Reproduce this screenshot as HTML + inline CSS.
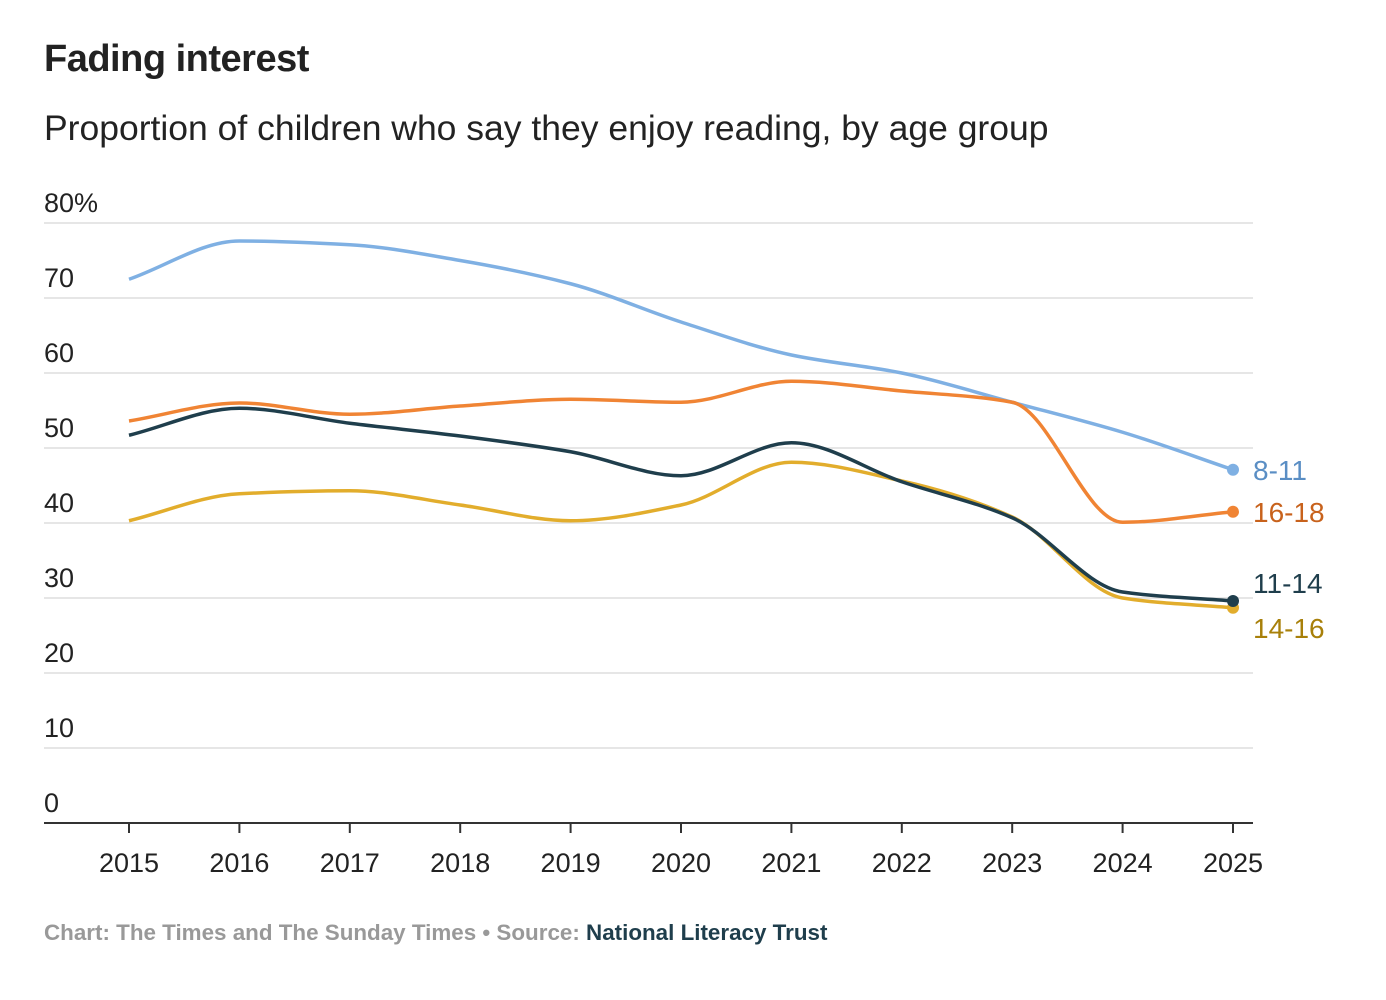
<!DOCTYPE html>
<html><head><meta charset="utf-8">
<style>
body{margin:0;background:#fff;font-family:"Liberation Sans",Arial,sans-serif;}
#wrap{position:relative;width:1386px;height:1000px;}
h1{position:absolute;left:44px;top:38px;margin:0;font-size:38px;font-weight:bold;color:#222;letter-spacing:-0.5px}
.sub{position:absolute;left:44px;top:108px;font-size:35.5px;color:#222}
.foot{position:absolute;left:44px;top:920px;font-size:22.4px;color:#999;font-weight:bold}
.foot span{color:#1f3e4c}
svg{position:absolute;left:0;top:0}
</style></head><body>
<div id="wrap">
<h1>Fading interest</h1>
<div class="sub">Proportion of children who say they enjoy reading, by age group</div>
<svg id="chart" width="1386" height="1000"></svg>
<div class="foot">Chart: The Times and The Sunday Times • Source: <span>National Literacy Trust</span></div>
</div>
<script>
const years=[2015,2016,2017,2018,2019,2020,2021,2022,2023,2024,2025];
const yTicks=[0,10,20,30,40,50,60,70,80];
const s811=[72.5,77.6,77.1,75,71.9,66.8,62.4,60,56.1,52.1,47.1];
const s1618=[53.6,56,54.5,55.6,56.5,56.1,58.9,57.6,56.1,40.1,41.5];
const s1114=[51.7,55.3,53.3,51.6,49.5,46.3,50.7,45.5,40.7,30.8,29.6];
const s1416=[40.3,43.9,44.3,42.4,40.3,42.4,48.1,45.6,40.8,30,28.7];
const seriesNames=["8-11","16-18","11-14","14-16"];
const NS="http://www.w3.org/2000/svg";
const svg=document.getElementById('chart');
const x=y=>129+(y-2015)*110.4;
const yv=v=>823-v*7.5;
function el(t,a){const e=document.createElementNS(NS,t);for(const k in a)e.setAttribute(k,a[k]);svg.appendChild(e);return e;}
yTicks.forEach(t=>{
  if(t>0){const g=el('line',{x1:44,x2:1253,y1:yv(t),y2:yv(t),stroke:'#ddd','stroke-width':1.5});
  
  }
  const lb=el('text',{x:44,y:yv(t)-11,'font-size':27,fill:'#222'});
  lb.textContent=t===80?'80%':t;
  
  
});
const ax=el('line',{x1:44,x2:1253,y1:823,y2:823,stroke:'#333','stroke-width':2});


years.forEach(yr=>{
  const tk=el('line',{x1:x(yr),x2:x(yr),y1:823,y2:833,stroke:'#333','stroke-width':2});
  
  
  const t=el('text',{x:x(yr),y:872,'font-size':27,fill:'#222','text-anchor':'middle'});
  t.textContent=yr;
  
  
});
function monotone(px,py){
  const n=px.length,d=[],m=[];
  for(let i=0;i<n-1;i++)d.push((py[i+1]-py[i])/(px[i+1]-px[i]));
  m[0]=d[0];m[n-1]=d[n-2];
  for(let i=1;i<n-1;i++){m[i]=(d[i-1]*d[i]<=0)?0:3*(px[i+1]-px[i-1])/((2*px[i+1]-px[i]-px[i-1])/d[i-1]+(px[i+1]+px[i]-2*px[i-1])/d[i]);}
  let p=`M${px[0]},${py[0]}`;
  for(let i=0;i<n-1;i++){const h=(px[i+1]-px[i])/3;p+=`C${px[i]+h},${py[i]+m[i]*h} ${px[i+1]-h},${py[i+1]-m[i+1]*h} ${px[i+1]},${py[i+1]}`;}
  return p;
}
const cfg=[[s811,'#7fb0e3','#5a8ec4',0],[s1618,'#f08434','#c8621c',0],[s1416,'#e2ad2c','#a8800a',20],[s1114,'#1f3e4c','#1f3e4c',-18]];
const nameIdx=[0,1,3,2];
cfg.forEach((c,i)=>{
  const vals=c[0];const px=years.map(x),py=vals.map(yv);
  const path=el('path',{d:monotone(px,py),fill:'none',stroke:c[1],'stroke-width':3.5});
  
  
  const dot=el('circle',{cx:px[px.length-1],cy:py[py.length-1],r:6,fill:c[1]});
  
  
  const lb=el('text',{x:1253,y:py[py.length-1]+10+c[3],'font-size':28,fill:c[2]});
  lb.textContent=seriesNames[nameIdx[i]];
  
  
});
</script>
</body></html>
